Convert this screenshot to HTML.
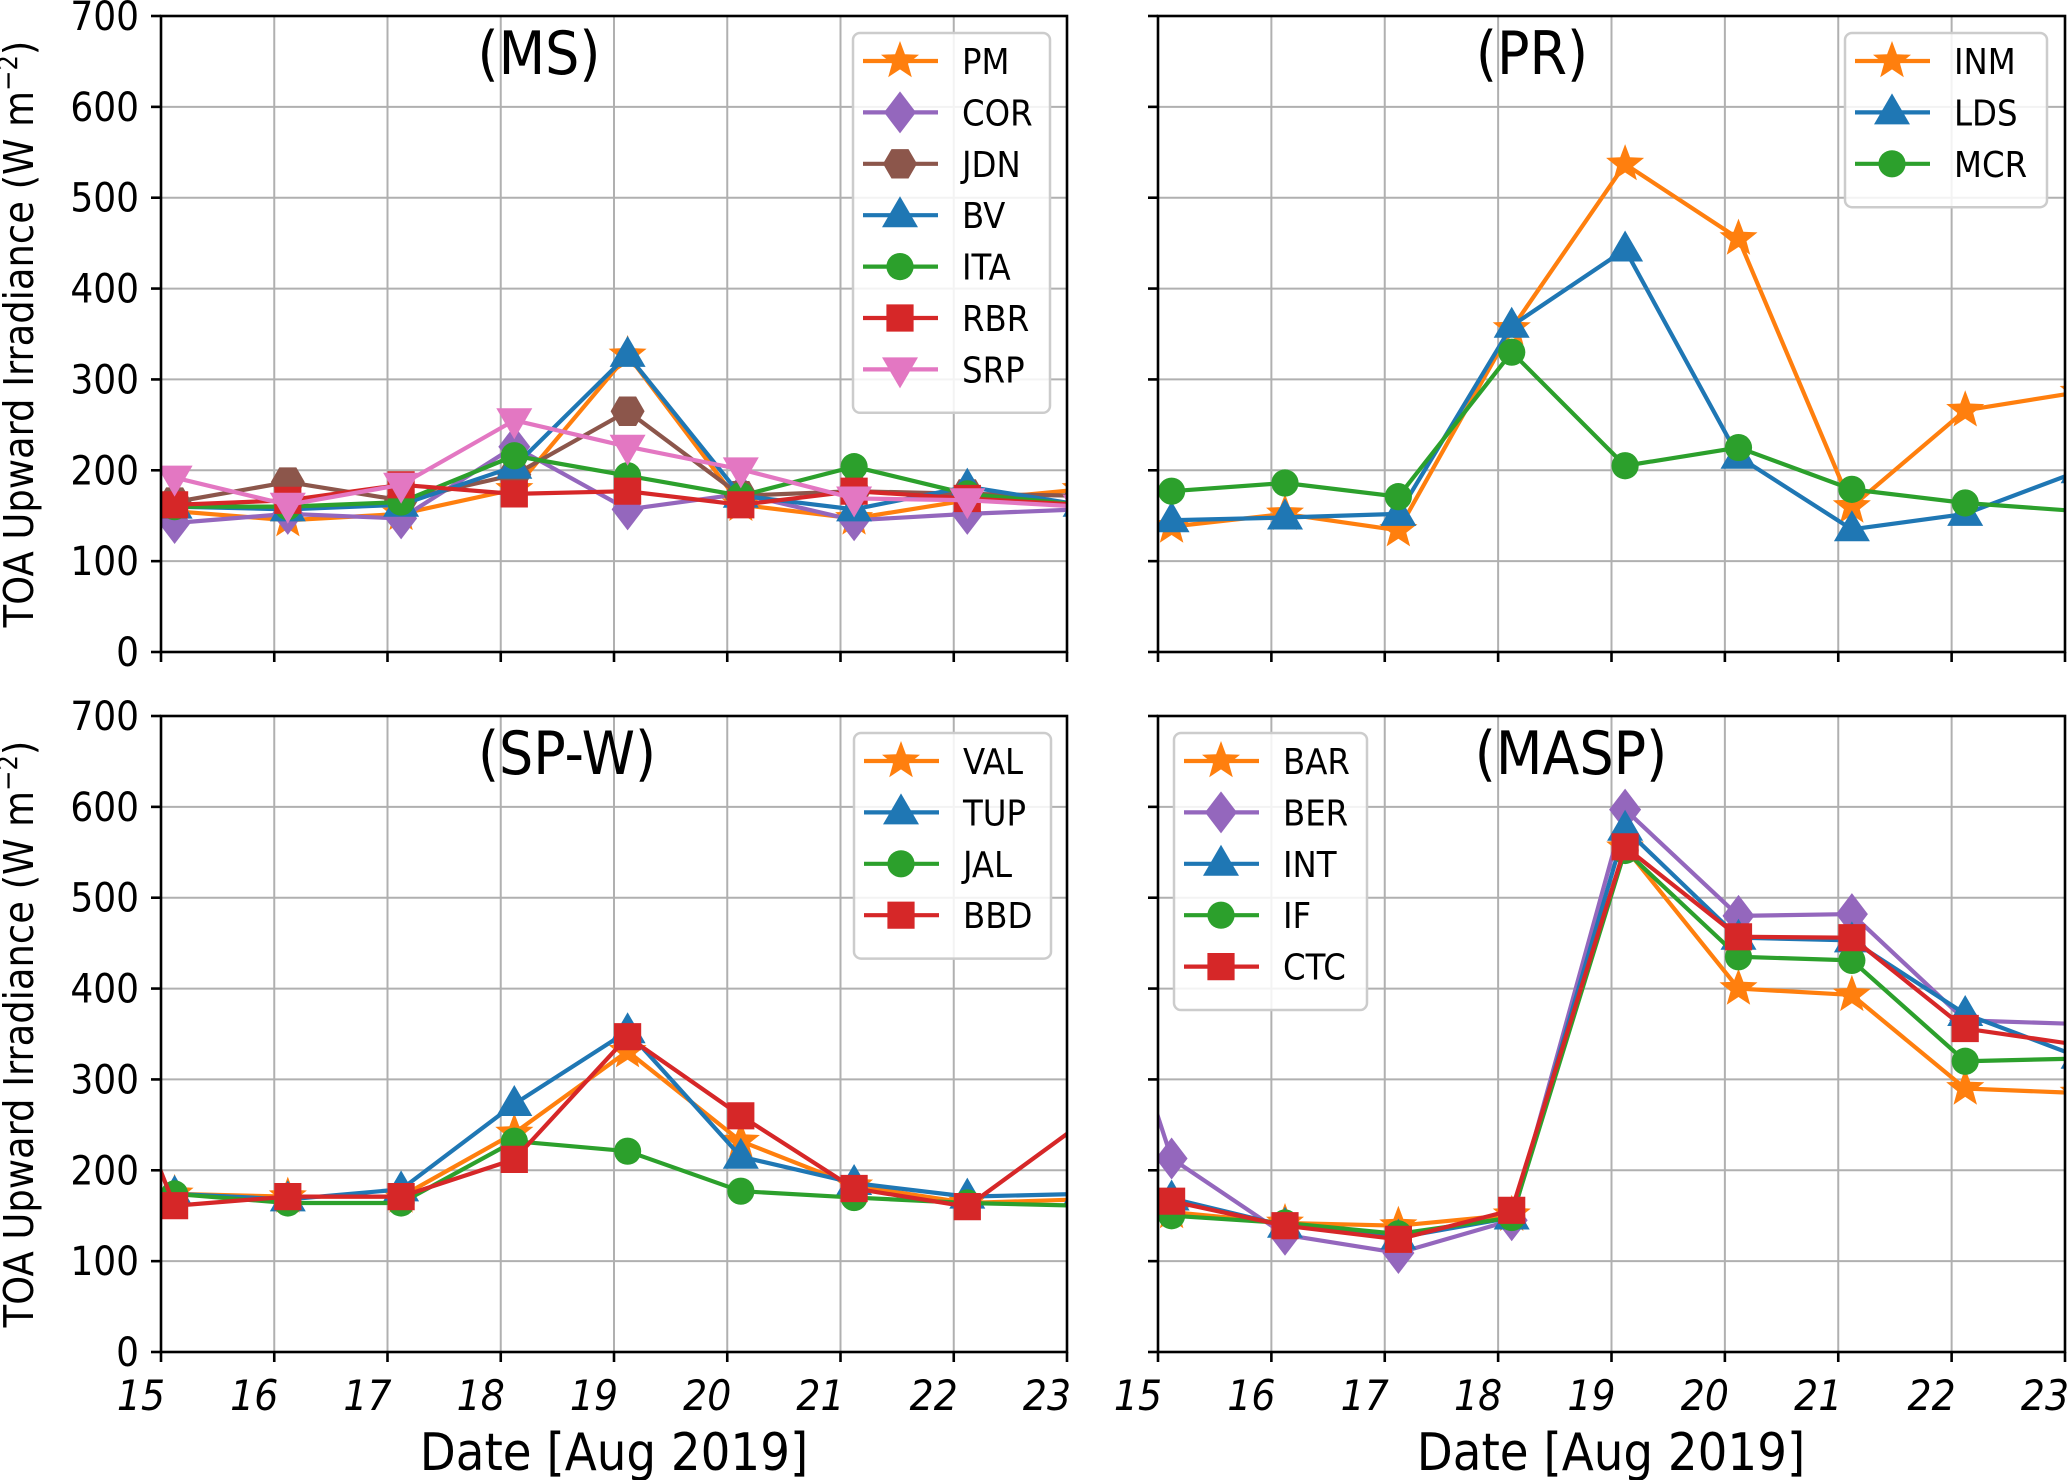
<!DOCTYPE html>
<html><head><meta charset="utf-8">
<style>
html,body{margin:0;padding:0;background:#fff;}
svg{display:block;font-family:"DejaVu Sans Condensed","DejaVu Sans","Liberation Sans",sans-serif;}
</style></head>
<body>
<svg id="fig" width="2067" height="1480" viewBox="0 0 2067 1480" xmlns="http://www.w3.org/2000/svg"></svg>
<script>
// ---- data ----
const days = [14, 15, 16, 17, 18, 19, 20, 21, 22, 23];
const yTicks = [0, 100, 200, 300, 400, 500, 600, 700];
const xTicks = [15, 16, 17, 18, 19, 20, 21, 22, 23];

const msNames = ["PM", "COR", "JDN", "BV", "ITA", "RBR", "SRP"];
const msPM  = [null, 155, 145, 152, 179, 327, 162, 147, 167, 179];
const msCOR = [null, 142, 152, 147, 226, 157, 174, 145, 152, 157];
const msJDN = [null, 165, 187, 167, 195, 265, 172, 177, 174, 172];
const msBV  = [null, 160, 157, 162, 204, 327, 172, 157, 182, 162];
const msITA = [null, 160, 160, 165, 216, 194, 172, 204, 174, 162];
const msRBR = [null, 162, 167, 184, 174, 177, 162, 177, 169, 162];
const msSRP = [null, 192, 162, 184, 255, 226, 201, 169, 167, 160];

const prNames = ["INM", "LDS", "MCR"];
const prINM = [null, 138, 152, 134, 356, 537, 455, 160, 266, 286];
const prLDS = [null, 145, 148, 152, 359, 443, 215, 135, 152, 199];
const prMCR = [null, 177, 186, 171, 330, 205, 225, 179, 164, 155];

const spNames = ["VAL", "TUP", "JAL", "BBD"];
const spVAL = [null, 174, 171, 171, 241, 331, 232, 183, 164, 168];
const spTUP = [null, 174, 168, 179, 273, 353, 215, 186, 171, 174];
const spJAL = [null, 174, 164, 164, 232, 221, 177, 170, 164, 161];
const spBBD = [471, 161, 171, 171, 212, 347, 260, 180, 160, 251];

const maspNames = ["BAR", "BER", "INT", "IF", "CTC"];
const maspBAR = [null, 154, 142, 139, 151, 555, 400, 393, 290, 285];
const maspBER = [595, 213, 129, 109, 145, 597, 480, 482, 365, 361];
const maspINT = [null, 169, 139, 126, 148, 576, 456, 453, 372, 325];
const maspIF  = [null, 150, 142, 130, 148, 552, 435, 431, 320, 323];
const maspCTC = [null, 166, 139, 124, 156, 556, 457, 456, 356, 338];

// ---- helpers ----
const NS = "http://www.w3.org/2000/svg";
const svg = document.getElementById('fig');
const C = {orange:"#ff7f0e", purple:"#9467bd", brown:"#8c564b", blue:"#1f77b4", green:"#2ca02c", red:"#d62728", pink:"#e377c2"};
const OFF = 0.12;
const MR = 20;
const LW = 4.2;
function mk(tag, attrs, parent) {
  const e = document.createElementNS(NS, tag);
  for (const k in attrs) e.setAttribute(k, attrs[k]);
  (parent || svg).appendChild(e);
  return e;
}
function markerPath(type, cx, cy, r) {
  const pts = [];
  if (type === 'star') {
    for (let i = 0; i < 10; i++) { const a = -Math.PI/2 + i*Math.PI/5; const rr = i%2 ? r*0.42 : r*1.0; pts.push([cx+rr*Math.cos(a), cy+rr*Math.sin(a)]); }
  } else if (type === 'diamond') {
    pts.push([cx, cy-r*1.05],[cx+r*0.8, cy],[cx, cy+r*1.05],[cx-r*0.8, cy]);
  } else if (type === 'hex') {
    for (let i = 0; i < 6; i++) { const a = i*Math.PI/3; pts.push([cx+r*0.85*Math.cos(a), cy+r*0.85*Math.sin(a)]); }
  } else if (type === 'tri') {
    pts.push([cx, cy-r*0.95],[cx+r*0.9, cy+r*0.6],[cx-r*0.9, cy+r*0.6]);
  } else if (type === 'tridown') {
    pts.push([cx, cy+r*0.95],[cx+r*0.9, cy-r*0.6],[cx-r*0.9, cy-r*0.6]);
  } else if (type === 'square') {
    pts.push([cx-r*0.68, cy-r*0.68],[cx+r*0.68, cy-r*0.68],[cx+r*0.68, cy+r*0.68],[cx-r*0.68, cy+r*0.68]);
  }
  return 'M' + pts.map(p => p[0].toFixed(1)+','+p[1].toFixed(1)).join('L') + 'Z';
}
function drawMarker(g, type, cx, cy, color, r) {
  if (type === 'circle') return mk('circle', {cx:cx, cy:cy, r:r*0.68, fill:color}, g);
  return mk('path', {d: markerPath(type, cx, cy, r), fill:color}, g);
}

let clipId = 0;
function panel(opts) {
  const {x0, x1, y0, y1, title, series, legend, yLabels, xLabels, name} = opts;
  const g = mk('g', {});
  
  
  const sx = d => x0 + (d - 15) / 8 * (x1 - x0);
  const sy = v => y1 - v / 700 * (y1 - y0);
  const grid = mk('g', {}, g);
  
  
  xTicks.forEach(t => mk('line', {x1:sx(t), x2:sx(t), y1:y0, y2:y1, stroke:'#b0b0b0', 'stroke-width':2}, grid));
  yTicks.forEach(t => mk('line', {x1:x0, x2:x1, y1:sy(t), y2:sy(t), stroke:'#b0b0b0', 'stroke-width':2}, grid));
  clipId++;
  const cp = mk('clipPath', {id:'c'+clipId}, g);
  mk('rect', {x:x0, y:y0-25, width:x1-x0, height:y1-y0+25}, cp);
  const plot = mk('g', {'clip-path':'url(#c'+clipId+')'}, g);
  series.forEach(s => {
    const sg = mk('g', {}, plot);
    
    
    const pts = [];
    s.values.forEach((v, i) => { if (v !== null) pts.push([sx(days[i] + OFF), sy(v)]); });
    mk('polyline', {points: pts.map(p => p.join(',')).join(' '), fill:'none', stroke:s.color, 'stroke-width':LW, 'stroke-linejoin':'round'}, sg);
    pts.forEach(p => {
      const m = drawMarker(sg, s.marker, p[0], p[1], s.color, MR);
      
      
    });
  });
  mk('rect', {x:x0, y:y0, width:x1-x0, height:y1-y0, fill:'none', stroke:'#000', 'stroke-width':2.6}, g);
  xTicks.forEach(t => {
    mk('line', {x1:sx(t), x2:sx(t), y1:y1, y2:y1+10, stroke:'#000', 'stroke-width':2.6}, g);
    if (xLabels) {
      const tx = mk('text', {x:sx(t)+4, y:y1+58, 'font-size':42, 'font-style':'italic', 'text-anchor':'end', fill:'#000'}, g);
      tx.textContent = t;
      
      
    }
  });
  yTicks.forEach(t => {
    mk('line', {x1:x0-10, x2:x0, y1:sy(t), y2:sy(t), stroke:'#000', 'stroke-width':2.6}, g);
    if (yLabels) {
      const ty = mk('text', {x:x0-22, y:sy(t)+14, 'font-size':40, 'text-anchor':'end', fill:'#000'}, g);
      ty.textContent = t;
      
      
    }
  });
  const tt = mk('text', {x:title.x, y:y0+58, 'font-size':60, 'text-anchor':'middle', fill:'#000'}, g);
  tt.textContent = title.text;
  
  
  const lg = mk('g', {}, g);
  
  
  const lh = 20 + series.length * 51.4;
  mk('rect', {x:legend.x, y:y0+17, width:legend.w, height:lh, rx:7, fill:'#fff', 'fill-opacity':0.85, stroke:'#cccccc', 'stroke-width':2.5}, lg);
  series.forEach((s, i) => {
    const cy = y0 + 45 + i * 51.4;
    const eg = mk('g', {}, lg);
    
    
    mk('line', {x1:legend.x+10, x2:legend.x+85, y1:cy, y2:cy, stroke:s.color, 'stroke-width':LW}, eg);
    drawMarker(eg, s.marker, legend.x+47, cy, s.color, MR);
    const t = mk('text', {x:legend.x+109, y:cy+13, 'font-size':36, fill:'#000'}, eg);
    t.textContent = s.name;
  });
}

panel({name:'panel-ms', x0:161, x1:1067, y0:16, y1:652, yLabels:true, xLabels:false,
  title:{text:'(MS)', x:539}, legend:{x:853, w:197},
  series:[
    {name:msNames[0], values:msPM,  color:C.orange, marker:'star'},
    {name:msNames[1], values:msCOR, color:C.purple, marker:'diamond'},
    {name:msNames[2], values:msJDN, color:C.brown,  marker:'hex'},
    {name:msNames[3], values:msBV,  color:C.blue,   marker:'tri'},
    {name:msNames[4], values:msITA, color:C.green,  marker:'circle'},
    {name:msNames[5], values:msRBR, color:C.red,    marker:'square'},
    {name:msNames[6], values:msSRP, color:C.pink,   marker:'tridown'}]});
panel({name:'panel-pr', x0:1158, x1:2065, y0:16, y1:652, yLabels:false, xLabels:false,
  title:{text:'(PR)', x:1532}, legend:{x:1845, w:202},
  series:[
    {name:prNames[0], values:prINM, color:C.orange, marker:'star'},
    {name:prNames[1], values:prLDS, color:C.blue,   marker:'tri'},
    {name:prNames[2], values:prMCR, color:C.green,  marker:'circle'}]});
panel({name:'panel-sp-w', x0:161, x1:1067, y0:716, y1:1352, yLabels:true, xLabels:true,
  title:{text:'(SP-W)', x:567}, legend:{x:854, w:197},
  series:[
    {name:spNames[0], values:spVAL, color:C.orange, marker:'star'},
    {name:spNames[1], values:spTUP, color:C.blue,   marker:'tri'},
    {name:spNames[2], values:spJAL, color:C.green,  marker:'circle'},
    {name:spNames[3], values:spBBD, color:C.red,    marker:'square'}]});
panel({name:'panel-masp', x0:1158, x1:2065, y0:716, y1:1352, yLabels:false, xLabels:true,
  title:{text:'(MASP)', x:1571}, legend:{x:1174, w:193},
  series:[
    {name:maspNames[0], values:maspBAR, color:C.orange, marker:'star'},
    {name:maspNames[1], values:maspBER, color:C.purple, marker:'diamond'},
    {name:maspNames[2], values:maspINT, color:C.blue,   marker:'tri'},
    {name:maspNames[3], values:maspIF,  color:C.green,  marker:'circle'},
    {name:maspNames[4], values:maspCTC, color:C.red,    marker:'square'}]});
</script>
<svg style="position:absolute;left:0;top:0" width="2067" height="1480" xmlns="http://www.w3.org/2000/svg" font-family="DejaVu Sans Condensed, DejaVu Sans, Liberation Sans, sans-serif">
  <text transform="translate(33,334) rotate(-90)" font-size="41" text-anchor="middle">TOA Upward Irradiance (W m<tspan font-size="27" dy="-16">−2</tspan><tspan dy="16">)</tspan></text>
  <text transform="translate(33,1034) rotate(-90)" font-size="41" text-anchor="middle">TOA Upward Irradiance (W m<tspan font-size="27" dy="-16">−2</tspan><tspan dy="16">)</tspan></text>
  <text x="614" y="1470" font-size="52" text-anchor="middle">Date [Aug 2019]</text>
  <text x="1611" y="1470" font-size="52" text-anchor="middle">Date [Aug 2019]</text>
</svg>
</body></html>
